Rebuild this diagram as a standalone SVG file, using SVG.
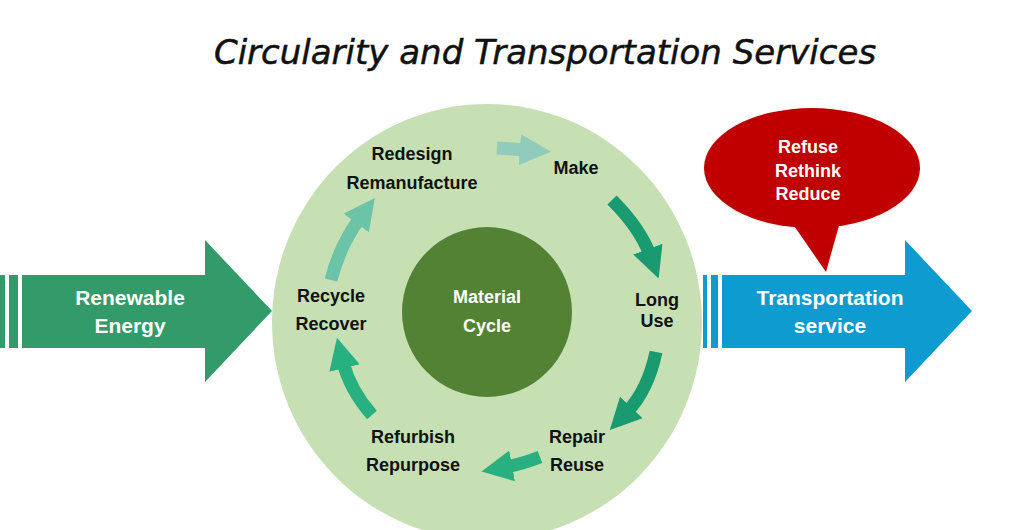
<svg xmlns="http://www.w3.org/2000/svg" width="1024" height="530" viewBox="0 0 1024 530">
<defs>
<style>
.lbl{font-family:"Liberation Sans",Arial,sans-serif;font-weight:bold;font-size:18px;fill:#111;text-anchor:middle}
.w{fill:#fff;font-size:21px}
.cyc{fill:none;stroke-width:13}
</style>
<marker id="hd1" viewBox="0 0 10 10" refX="2" refY="5" markerWidth="2.4" markerHeight="2.4" orient="auto"><path d="M0,0L10,5L0,10z" fill="#1a9a70"/></marker>
<marker id="hd2" viewBox="0 0 10 10" refX="2" refY="5" markerWidth="2.4" markerHeight="2.4" orient="auto"><path d="M0,0L10,5L0,10z" fill="#28b080"/></marker>
<marker id="hd3" viewBox="0 0 10 10" refX="2" refY="5" markerWidth="2.4" markerHeight="2.4" orient="auto"><path d="M0,0L10,5L0,10z" fill="#6cc4a8"/></marker>
<marker id="hd4" viewBox="0 0 10 10" refX="2" refY="5" markerWidth="2.4" markerHeight="2.4" orient="auto"><path d="M0,0L10,5L0,10z" fill="#90cbbb"/></marker>
</defs>
<rect width="1024" height="530" fill="#fff"/>
<text x="545" y="64" text-anchor="middle" font-family="'DejaVu Sans',sans-serif" font-style="italic" font-size="34" fill="#111" stroke="#111" stroke-width="0.5">Circularity and Transportation Services</text>
<g id="renewable">
<rect x="0" y="275" width="5" height="73" fill="#339a6a"/><rect x="9" y="275" width="9" height="73" fill="#339a6a"/>
<path d="M22,275H205V240L272,311L205,382V348H22z" fill="#339a6a"/>
<text class="lbl w" x="130" y="305">Renewable</text><text class="lbl w" x="130" y="333">Energy</text>
</g>
<g id="transport">
<rect x="703" y="275" width="4" height="73" fill="#0e9bd0"/><rect x="711" y="275" width="7" height="73" fill="#0e9bd0"/>
<path d="M722,275H905V240L972,311L905,382V348H722z" fill="#0e9bd0"/>
<text class="lbl w" x="830" y="305">Transportation</text><text class="lbl w" x="830" y="333">service</text>
</g>
<g id="cycle">
<ellipse cx="487" cy="322" rx="215" ry="218" fill="#c6e0b4"/>
</g>
<g id="material">
<circle cx="487" cy="312" r="85" fill="#548235"/>
<text class="lbl" style="fill:#fff" x="487" y="303">Material</text><text class="lbl" style="fill:#fff" x="487" y="332">Cycle</text>
</g>
<g id="refuse">
<path d="M790,220L826,272L840,222z" fill="#c00000"/>
<ellipse cx="812" cy="168" rx="108" ry="60" fill="#c00000"/>
<text class="lbl" style="fill:#fff" x="808" y="153">Refuse</text><text class="lbl" style="fill:#fff" x="808" y="177">Rethink</text><text class="lbl" style="fill:#fff" x="808" y="200">Reduce</text>
</g>
<g id="labels">
<text class="lbl" x="412" y="160">Redesign</text><text class="lbl" x="412" y="189">Remanufacture</text>
<text class="lbl" x="576" y="174">Make</text>
<text class="lbl" x="657" y="306">Long</text><text class="lbl" x="657" y="327">Use</text>
<text class="lbl" x="577" y="443">Repair</text><text class="lbl" x="577" y="471">Reuse</text>
<text class="lbl" x="413" y="443">Refurbish</text><text class="lbl" x="413" y="471">Repurpose</text>
<text class="lbl" x="331" y="302">Recycle</text><text class="lbl" x="331" y="330">Recover</text>
</g>
<g id="connectors">
<path class="cyc" d="M497,148L526,150" stroke="#90cbbb" marker-end="url(#hd4)"/>
<path class="cyc" d="M612,200Q640,228 650,255" stroke="#1a9a70" marker-end="url(#hd1)"/>
<path class="cyc" d="M656,352Q648,390 627,412" stroke="#1a9a70" marker-end="url(#hd1)"/>
<path class="cyc" d="M540,457Q522,464 506,467" stroke="#28b080" marker-end="url(#hd2)"/>
<path class="cyc" d="M372,415Q350,390 343,362" stroke="#28b080" marker-end="url(#hd2)"/>
<path class="cyc" d="M331,280Q340,245 360,218" stroke="#6cc4a8" marker-end="url(#hd3)"/>
</g>
</svg>
